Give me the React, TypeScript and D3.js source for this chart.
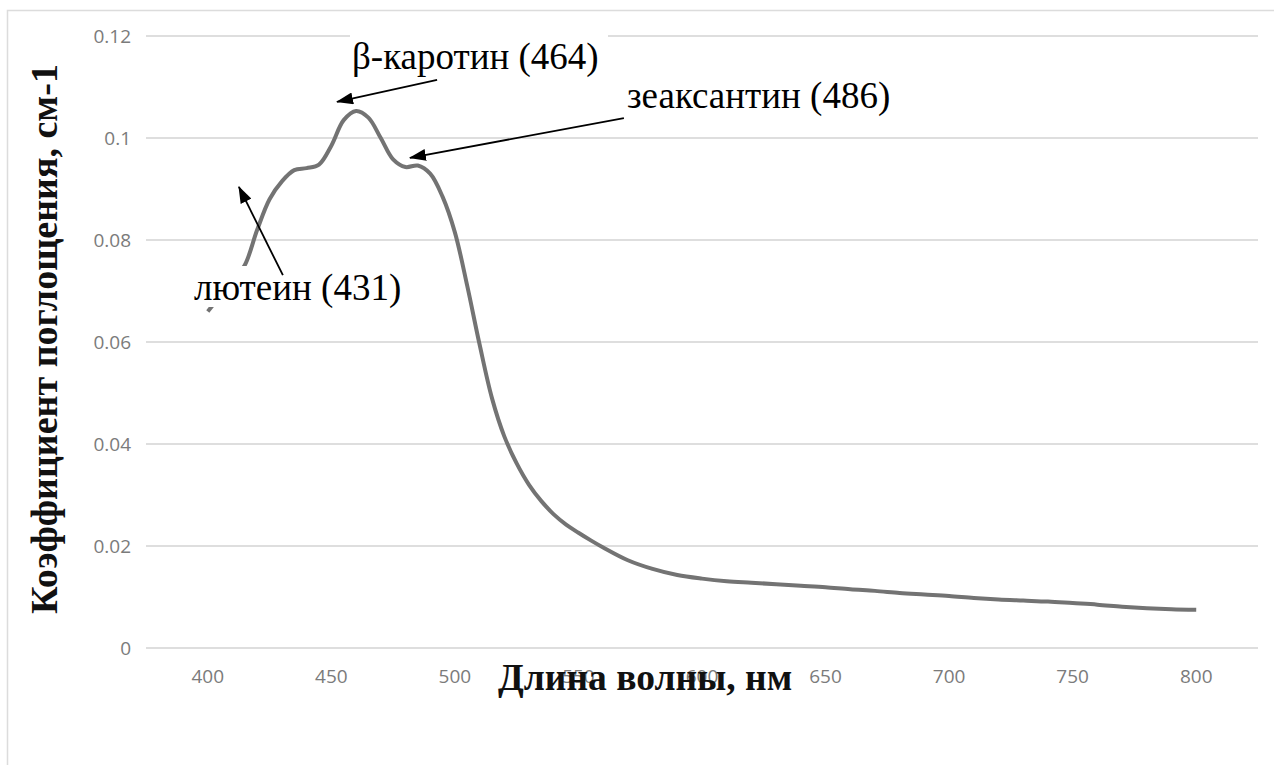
import React from 'react';
import * as d3 from 'd3';

// Absorption spectrum, wavelength in nm
const wavelength = [
  400, 405, 410, 415, 420, 425, 430, 435, 440, 445, 450, 455, 460, 465, 470,
  475, 480, 485, 490, 495, 500, 505, 510, 515, 520, 525, 530, 535, 540, 545,
  550, 555, 560, 570, 580, 590, 600, 610, 620, 630, 640, 650, 660, 670, 680,
  690, 700, 710, 720, 730, 740, 750, 760, 770, 780, 790, 800,
];
const absorbance = [
  0.066, 0.069, 0.072, 0.0751, 0.082, 0.088, 0.0915, 0.0937, 0.0941, 0.0948,
  0.0985, 0.1035, 0.1053, 0.104, 0.1, 0.0958, 0.0943, 0.0946, 0.093, 0.0885,
  0.0815, 0.071, 0.0595, 0.049, 0.0415, 0.0362, 0.032, 0.0288, 0.0262, 0.0242,
  0.0226, 0.0211, 0.0197, 0.0172, 0.0155, 0.0143, 0.0136, 0.0131, 0.0128,
  0.0125, 0.0122, 0.0119, 0.0115, 0.0112, 0.0108, 0.0105, 0.0102, 0.0098,
  0.0095, 0.0093, 0.0091, 0.0088, 0.0085, 0.0081, 0.0078, 0.0076, 0.0075,
];

const xTicks = [400, 450, 500, 550, 600, 650, 700, 750, 800];
const yTicks = [0, 0.02, 0.04, 0.06, 0.08, 0.1, 0.12];

const xTitle = 'Длина волны, нм';
const yTitle = 'Коэффициент поглощения, см-1';

// Pigment callouts: arrow tail and tip in data coordinates
const pigmentLabels = ['β-каротин (464)', 'зеаксантин (486)', 'лютеин (431)'];
const arrowFrom: [number, number][] = [[492.8, 0.1114], [568.4, 0.1039], [430.4, 0.0731]];
const arrowTo: [number, number][] = [[452.3, 0.1071], [481.8, 0.0961], [412.6, 0.0904]];

const W = 1274;
const H = 765;
const plot = { left: 146, right: 1258, top: 36, bottom: 648 };

// Text placement and the white boxes behind the callouts (pixels)
const labelPos = [
  { x: 352, y: 69, box: [350, 28, 258, 52] },
  { x: 627, y: 108, box: [622, 74, 275, 44] },
  { x: 194, y: 300, box: [190, 266, 220, 41] },
];

const serif = '"Liberation Serif", "Times New Roman", serif';
const sans = '"Open Sans", "Noto Sans", sans-serif';

export default function App() {
  const x = d3.scaleLinear().domain([375, 825]).range([plot.left, plot.right]);
  const y = d3.scaleLinear().domain([0, 0.12]).range([plot.bottom, plot.top]);

  const pts = wavelength.map((w, i) => [w, absorbance[i]] as [number, number]);
  const line = d3
    .line<[number, number]>()
    .x((d) => x(d[0]))
    .y((d) => y(d[1]))
    .curve(d3.curveCatmullRom.alpha(0.5));

  return (
    <div style={{ position: 'fixed', left: 0, top: 0 }}>
      <svg width={W} height={H} viewBox={`0 0 ${W} ${H}`} style={{ display: 'block', background: '#fff' }}>
        <defs>
          <marker
            id="arrowhead"
            markerUnits="userSpaceOnUse"
            markerWidth={18}
            markerHeight={12}
            refX={16}
            refY={6}
            orient="auto"
          >
            <path d="M0,0 L17,6 L0,12 Z" fill="#000" />
          </marker>
        </defs>

        <rect x={0} y={0} width={W} height={H} fill="#fff" />
        {/* chart area frame */}
        <rect x={7.5} y={10.5} width={W + 20} height={H + 20} fill="none" stroke="#dcdcdc" strokeWidth={1.5} />

        {/* horizontal gridlines */}
        {yTicks.map((t) => (
          <line
            key={`g${t}`}
            x1={plot.left}
            x2={plot.right}
            y1={y(t)}
            y2={y(t)}
            stroke="#dedede"
            strokeWidth={2}
          />
        ))}

        {/* y tick labels */}
        {yTicks.map((t) => (
          <text
            key={`yl${t}`}
            x={131}
            y={y(t)}
            dy="0.35em"
            textAnchor="end"
            fontFamily={sans}
            fontSize={19}
            fill="#7b7b7b"
          >
            {String(t)}
          </text>
        ))}

        {/* x tick labels */}
        {xTicks.map((t) => (
          <text
            key={`xl${t}`}
            x={x(t)}
            y={676}
            dy="0.35em"
            textAnchor="middle"
            fontFamily={sans}
            fontSize={19}
            fill="#7b7b7b"
          >
            {t}
          </text>
        ))}

        {/* spectrum */}
        <path d={line(pts) || ''} fill="none" stroke="#737373" strokeWidth={4} strokeLinejoin="round" strokeLinecap="butt" />

        {/* callout boxes */}
        {labelPos.map((p, i) => (
          <rect key={`b${i}`} x={p.box[0]} y={p.box[1]} width={p.box[2]} height={p.box[3]} fill="#fff" />
        ))}

        {/* callout arrows */}
        {arrowFrom.map((f, i) => (
          <line
            key={`a${i}`}
            x1={x(f[0])}
            y1={y(f[1])}
            x2={x(arrowTo[i][0])}
            y2={y(arrowTo[i][1])}
            stroke="#000"
            strokeWidth={1.8}
            markerEnd="url(#arrowhead)"
          />
        ))}

        {/* callout text */}
        {pigmentLabels.map((s, i) => (
          <text key={`t${i}`} x={labelPos[i].x} y={labelPos[i].y} fontFamily={serif} fontSize={37} fill="#000">
            {s}
          </text>
        ))}

        {/* axis titles */}
        <text x={498} y={690} fontFamily={serif} fontSize={37.5} fontWeight="bold" fill="#111">
          {xTitle}
        </text>
        <text
          transform="translate(57,339) rotate(-90)"
          textAnchor="middle"
          fontFamily={serif}
          fontSize={38}
          fontWeight="bold"
          fill="#111"
        >
          {yTitle}
        </text>
      </svg>
    </div>
  );
}
